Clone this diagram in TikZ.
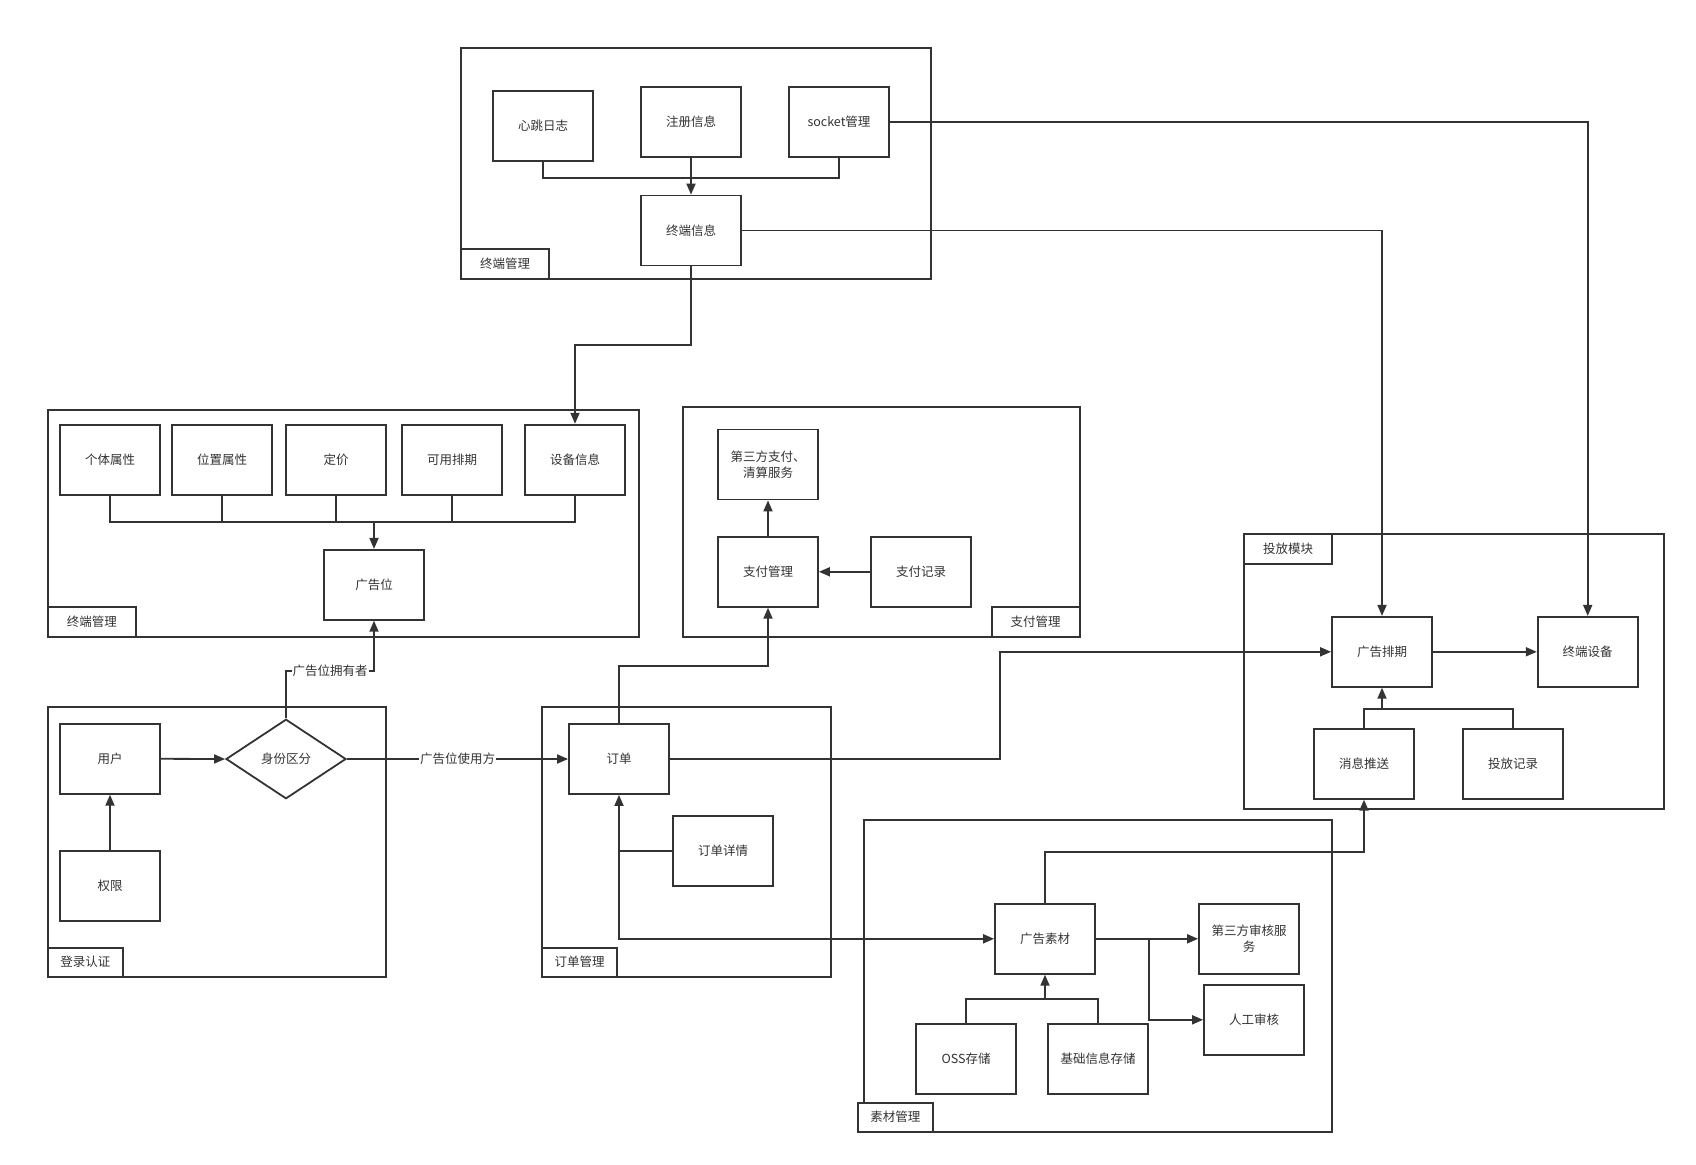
\documentclass[tikz,border=0pt]{standalone}
\usepackage{fontspec}
\newfontfamily\cjk{Noto Sans CJK SC}
\usetikzlibrary{arrows.meta,shapes.geometric}
\definecolor{lc}{HTML}{333333}
\begin{document}
\begin{tikzpicture}[x=1pt,y=-1pt,
  every node/.style={font=\cjk\fontsize{12.5}{16}\selectfont, text=lc},
  wire/.style={draw=lc, line width=1.8pt},
  arw/.style={wire, -{Triangle[length=11pt,width=9pt]}},
  dbl/.style={wire, {Triangle[length=11pt,width=9pt]}-{Triangle[length=11pt,width=9pt]}},
  box/.style={draw=lc, line width=1.8pt, fill=white, minimum width=100pt, minimum height=70pt, inner sep=2pt, align=center},
  grp/.style={draw=lc, line width=1.8pt, inner sep=0pt},
  tag/.style={draw=lc, line width=1.8pt, fill=white, inner sep=0pt, minimum height=30pt},
  lbl/.style={fill=white, inner sep=1pt}
]
\useasboundingbox (0,0) rectangle (1696,1164);

% containers
\node[grp, minimum width=470pt, minimum height=231pt] (g1) at (696,163.2) {};
\node[grp, minimum width=591.3pt, minimum height=226.7pt] (g2) at (343.35,523.35) {};
\node[grp, minimum width=338.3pt, minimum height=270pt] (g3) at (216.85,841.7) {};
\node[grp, minimum width=289pt, minimum height=269.7pt] (g4) at (686.5,841.85) {};
\node[grp, minimum width=397pt, minimum height=230.3pt] (g5) at (881.2,521.85) {};
\node[grp, minimum width=419.7pt, minimum height=274.7pt] (g6) at (1454.15,671.35) {};
\node[grp, minimum width=468.3pt, minimum height=311.7pt] (g7) at (1097.85,975.85) {};

% container tags
\node[tag, minimum width=88pt] (t1) at (505,264) {终端管理};
\node[tag, minimum width=88.3pt] (t2) at (91.85,621.7) {终端管理};
\node[tag, minimum width=75.3pt, minimum height=29pt] (t3) at (85.35,962.2) {登录认证};
\node[tag, minimum width=75pt, minimum height=29pt] (t4) at (579.5,962.2) {订单管理};
\node[tag, minimum width=88pt] (t5) at (1035.7,621.85) {支付管理};
\node[tag, minimum width=87.7pt, minimum height=29.7pt] (t6) at (1288.15,548.85) {投放模块};
\node[tag, minimum width=75.3pt, minimum height=29pt] (t7) at (895.35,1117.2) {素材管理};

% top group
\node[box] (xt) at (543,125.7) {心跳日志};
\node[box] (zc) at (691,121.8) {注册信息};
\node[box] (sk) at (839,121.8) {socket管理};
\node[box] (zd) at (691,230.5) {终端信息};

% terminal group 2
\node[box] (gt) at (110,459.7) {个体属性};
\node[box] (wz) at (222,459.7) {位置属性};
\node[box] (dj) at (336,459.7) {定价};
\node[box] (ky) at (452,459.7) {可用排期};
\node[box] (sbxx) at (575,459.7) {设备信息};
\node[box] (ggw) at (374,584.8) {广告位};

% login group
\node[box] (yh) at (110,758.8) {用户};
\node[box] (qx) at (110,885.7) {权限};
\node[diamond, draw=lc, line width=1.8pt, fill=white, aspect=1.5, inner sep=0pt, minimum width=120pt, minimum height=79.5pt] (sf) at (286,759) {身份区分};

% order group
\node[box] (dd) at (619,759) {订单};
\node[box] (ddxq) at (723,851) {订单详情};

% payment group
\node[box] (dsf) at (768,464.5) {第三方支付、\\清算服务};
\node[box] (zfgl) at (768,571.8) {支付管理};
\node[box] (zfjl) at (921,571.8) {支付记录};

% delivery group
\node[box] (gpq) at (1382,651.8) {广告排期};
\node[box] (zdsb) at (1587.7,651.8) {终端设备};
\node[box] (xxts) at (1364,763.8) {消息推送};
\node[box] (tfjl) at (1513,763.8) {投放记录};

% material group
\node[box] (ggsc) at (1045,938.8) {广告素材};
\node[box] (dsfsh) at (1249,938.8) {第三方审核服\\务};
\node[box] (rgsh) at (1254,1019.8) {人工审核};
\node[box] (oss) at (966,1058.8) {OSS存储};
\node[box] (jcxx) at (1098,1058.8) {基础信息存储};

% coordinates
\coordinate (m1) at (691,178.3);
\coordinate (k1) at (691,345);
\coordinate (k2) at (575,345);
\coordinate (m2) at (374,522);
\coordinate (k3) at (286,670.7);
\coordinate (k4) at (374,670.7);
\coordinate (k5) at (619,665.7);
\coordinate (k6) at (768,665.7);
\coordinate (k7) at (619,851);
\coordinate (k9) at (1000.3,651.8);
\coordinate (m3) at (1382,708.7);
\coordinate (m4) at (1045,999.3);
\coordinate (k10) at (1149.3,938.8);
\coordinate (k11) at (1045,851.7);

% connectors: top group
\draw[wire] (xt.south) |- (m1);
\draw[wire] (sk.south) |- (m1);
\draw[arw] (zc.south) -- (zd.north);
\draw[arw] (sk.east) -| (zdsb.north);
\draw[arw] (zd.east) -| (gpq.north);
\draw[arw] (zd.south) -- (k1) -- (k2) -- (sbxx.north);

% terminal group 2
\draw[wire] (gt.south) |- (m2);
\draw[wire] (wz.south) |- (m2);
\draw[wire] (dj.south) |- (m2);
\draw[wire] (ky.south) |- (m2);
\draw[wire] (sbxx.south) |- (m2);
\draw[arw] (m2) -- (ggw.north);

% login
\draw[arw] (qx.north) -- (yh.south);
\draw[arw] (yh.east) -- (sf.west);
\draw[arw] (sf.north) -- (k3) -- node[lbl] {广告位拥有者} (k4) -- (ggw.south);
\draw[arw] (sf.east) -- node[lbl] {广告位使用方} (dd.west);

% order
\draw[arw] (dd.north) -- (k5) -- (k6) -- (zfgl.south);
\draw[wire] (ddxq.west) -- (k7);
\draw[dbl] (dd.south) |- (ggsc.west);
\draw[arw] (dd.east) -| (k9) -- (gpq.west);

% payment
\draw[arw] (zfjl.west) -- (zfgl.east);
\draw[arw] (zfgl.north) -- (dsf.south);

% delivery
\draw[arw] (gpq.east) -- (zdsb.west);
\draw[wire] (xxts.north) |- (m3);
\draw[wire] (tfjl.north) |- (m3);
\draw[arw] (m3) -- (gpq.south);

% material
\draw[wire] (oss.north) |- (m4);
\draw[wire] (jcxx.north) |- (m4);
\draw[arw] (m4) -- (ggsc.south);
\draw[arw] (ggsc.east) -- (dsfsh.west);
\draw[arw] (k10) |- (rgsh.west);
\draw[arw] (ggsc.north) -- (k11) -| (xxts.south);
\end{tikzpicture}
\end{document}
